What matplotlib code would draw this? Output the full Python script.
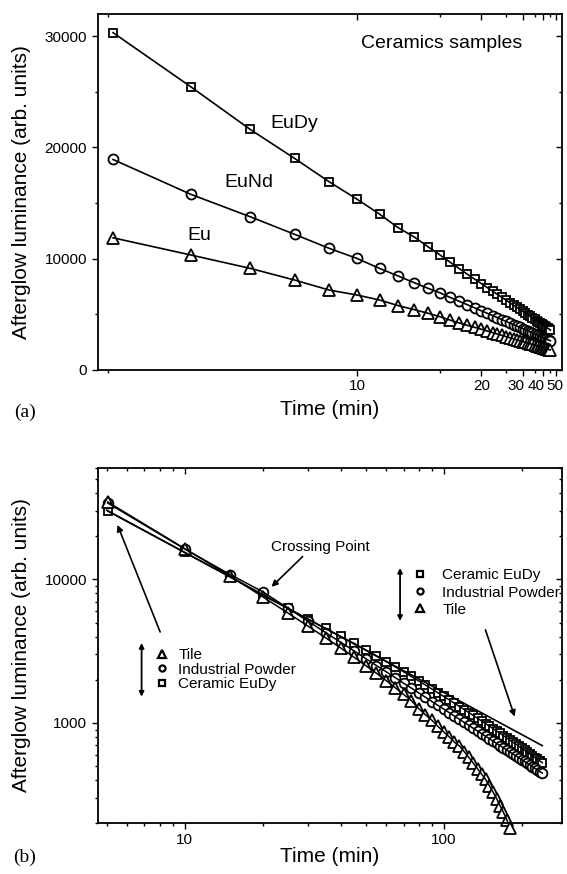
import numpy as np
import matplotlib
matplotlib.use('Agg')
import matplotlib.pyplot as plt
import matplotlib.transforms as mtransforms
from matplotlib.ticker import FixedLocator, NullFormatter, FuncFormatter
from matplotlib.lines import Line2D

plt.rcParams['font.family'] = ['Liberation Sans', 'DejaVu Sans']

# ---------------- Panel (a) data: ceramics samples ----------------
t_a = [5.05, 6, 7, 8, 9, 10, 11, 12, 13, 14, 15, 16, 17, 18, 19, 20, 21, 22, 23, 24,
       25, 26, 27, 28, 29, 30, 31, 32, 33, 34, 35, 36, 37, 38, 39, 40, 41, 42, 43, 44, 45]
eudy = [30320, 25440, 21620, 19010, 16910, 15360, 14010, 12780, 11950, 11080, 10350,
        9680, 9110, 8600, 8160, 7770, 7410, 7090, 6790, 6520, 6270, 6040, 5820, 5620,
        5440, 5270, 5100, 4950, 4810, 4680, 4550, 4430, 4320, 4210, 4110, 4010, 3920,
        3830, 3750, 3670, 3590]
eund = [18920, 15780, 13770, 12190, 10930, 10030, 9130, 8440, 7840, 7340, 6940,
        6520, 6170, 5860, 5580, 5320, 5100, 4890, 4700, 4520, 4360, 4210, 4070, 3950,
        3830, 3720, 3610, 3510, 3420, 3330, 3250, 3180, 3100, 3030, 2970, 2900, 2840,
        2790, 2730, 2680, 2630]
eu = [11880, 10330, 9130, 8080, 7180, 6740, 6290, 5780, 5420, 5100, 4790,
      4480, 4220, 4010, 3830, 3660, 3500, 3360, 3230, 3110, 3000, 2900, 2800, 2710,
      2630, 2550, 2480, 2410, 2350, 2290, 2230, 2180, 2130, 2080, 2030, 1990, 1950,
      1910, 1870, 1830, 1800]
a_xticks = [10, 20, 30, 40, 50]
a_xminor = [5, 15, 25, 35, 45]
a_yticks = [0, 10000, 20000, 30000]
a_yminor = [5000, 15000, 25000]

# ---------------- Panel (b) data ----------------
t_tile = [5.05, 10, 15, 20, 25, 30, 35, 40, 45, 50, 55, 60, 65, 70, 75, 80, 85, 90,
          95, 100, 105, 110, 115, 120, 125, 130, 135, 140, 145, 150, 155, 160, 165,
          170, 175, 180]
tile = [34600, 16400, 10540, 7570, 5840, 4710, 3920, 3330, 2870, 2510, 2220, 1970,
        1760, 1580, 1430, 1260, 1140, 1045, 946, 866, 800, 735, 690, 630, 575, 525,
        480, 440, 405, 365, 330, 297, 265, 238, 212, 186]
t_long = [5.05, 10, 15, 20, 25, 30, 35, 40, 45, 50, 55, 60, 65, 70, 75, 80, 85, 90,
          95, 100, 105, 110, 115, 120, 125, 130, 135, 140, 145, 150, 155, 160, 165,
          170, 175, 180, 185, 190, 195, 200, 205, 210, 215, 220, 225, 230, 235, 240]
powder = [34000, 16300, 10800, 8210, 6320, 5100, 4260, 3650, 3180, 2810, 2510, 2270,
          2070, 1890, 1750, 1620, 1510, 1410, 1325, 1250, 1180, 1116, 1060, 1008, 961,
          918, 879, 842, 808, 777, 747, 720, 695, 671, 648, 627, 608, 589, 571, 555,
          539, 524, 510, 496, 483, 471, 459, 448]
ceramic = [29900, 15400, 10400, 7770, 6270, 5270, 4550, 4010, 3590, 3230, 2930, 2675,
           2458, 2271, 2107, 1963, 1836, 1723, 1621, 1530, 1447, 1371, 1302, 1239, 1181,
           1128, 1078, 1032, 990, 950, 913, 878, 846, 815, 787, 760, 734, 711, 688, 666,
           646, 626, 608, 590, 574, 558, 543, 528]
fit_t = [5, 240]
fit_v = [30350, 695]


def fwd(t):
    t = np.asarray(t, dtype=float)
    with np.errstate(divide='ignore', invalid='ignore'):
        return -1.0 / t


def inv(u):
    u = np.asarray(u, dtype=float)
    with np.errstate(divide='ignore', invalid='ignore'):
        return -1.0 / u


fig = plt.figure(figsize=(5.67, 8.74), dpi=100)
axA = fig.add_axes([0.1728, 0.5767, 0.8184, 0.4073])
axB = fig.add_axes([0.1728, 0.0580, 0.8184, 0.4069])

MEW = 1.3
TL = 4.3
TLm = 2.3

# ---------------- Panel (a) ----------------
axA.set_xscale('function', functions=(fwd, inv))
for y, m, ms in [(eudy, 's', 6.3), (eund, 'o', 7.2), (eu, '^', 8.0)]:
    axA.plot(t_a, y, ls='none', marker=m, ms=ms, mfc='white', mec='k', mew=MEW,
             zorder=2, clip_on=False)
    axA.plot(t_a, y, '-', color='k', lw=1.2, zorder=3)
axA.set_xlim(4.9, 57)
axA.set_ylim(0, 32000)
axA.xaxis.set_major_locator(FixedLocator(a_xticks))
axA.xaxis.set_minor_locator(FixedLocator(a_xminor))
axA.xaxis.set_major_formatter(FuncFormatter(lambda v, p: f'{v:g}'))
axA.xaxis.set_minor_formatter(NullFormatter())
axA.yaxis.set_major_locator(FixedLocator(a_yticks))
axA.yaxis.set_minor_locator(FixedLocator(a_yminor))
axA.yaxis.set_major_formatter(FuncFormatter(lambda v, p: f'{v:g}'))

axA.text(0.741, 0.918, 'Ceramics samples', transform=axA.transAxes, ha='center',
         va='center', fontsize=14)
axA.text(0.423, 0.693, 'EuDy', transform=axA.transAxes, ha='center', va='center', fontsize=14)
axA.text(0.326, 0.526, 'EuNd', transform=axA.transAxes, ha='center', va='center', fontsize=14)
axA.text(0.218, 0.379, 'Eu', transform=axA.transAxes, ha='center', va='center', fontsize=14)

# ---------------- Panel (b) ----------------
axB.set_xscale('log')
axB.set_yscale('log')
for tt, y, m, ms in [(t_long, ceramic, 's', 6.3), (t_long, powder, 'o', 7.0),
                     (t_tile, tile, '^', 8.4)]:
    axB.plot(tt, y, ls='none', marker=m, ms=ms, mfc='white', mec='k', mew=MEW,
             zorder=2, clip_on=False)
    axB.plot(tt, y, '-', color='k', lw=1.1, zorder=3)
axB.plot(fit_t, fit_v, '-', color='k', lw=1.2, zorder=3)
axB.set_xlim(4.63, 286)
axB.set_ylim(200, 60000)
fmt = FuncFormatter(lambda v, p: f'{v:g}')
axB.xaxis.set_major_formatter(fmt)
axB.yaxis.set_major_formatter(fmt)
axB.xaxis.set_minor_formatter(NullFormatter())
axB.yaxis.set_minor_formatter(NullFormatter())

axB.text(0.480, 0.776, 'Crossing Point', transform=axB.transAxes, ha='center',
         va='center', fontsize=11)
ap = dict(arrowstyle='-|>', color='k', lw=1.2, mutation_scale=9, shrinkA=0, shrinkB=0)
axB.annotate('', xy=(0.374, 0.665), xytext=(0.441, 0.750), xycoords='axes fraction',
             textcoords='axes fraction', arrowprops=ap)
axB.annotate('', xy=(0.042, 0.839), xytext=(0.134, 0.538), xycoords='axes fraction',
             textcoords='axes fraction', arrowprops=ap)
axB.annotate('', xy=(0.898, 0.300), xytext=(0.835, 0.544), xycoords='axes fraction',
             textcoords='axes fraction', arrowprops=ap)
dap = dict(arrowstyle='<|-|>', color='k', lw=1.3, mutation_scale=7, shrinkA=0, shrinkB=0)
axB.annotate('', xy=(0.651, 0.718), xytext=(0.651, 0.569), xycoords='axes fraction',
             textcoords='axes fraction', arrowprops=dap)
axB.annotate('', xy=(0.094, 0.507), xytext=(0.094, 0.356), xycoords='axes fraction',
             textcoords='axes fraction', arrowprops=dap)

h_sq = Line2D([], [], ls='none', marker='s', ms=4.2, mfc='white', mec='k', mew=1.6)
h_ci = Line2D([], [], ls='none', marker='o', ms=4.4, mfc='white', mec='k', mew=1.6)
h_tr = Line2D([], [], ls='none', marker='^', ms=5.5, mfc='white', mec='k', mew=1.6)
leg1 = axB.legend([h_sq, h_ci, h_tr], ['Ceramic EuDy', 'Industrial Powder', 'Tile'],
                  loc='center left', bbox_to_anchor=(0.6765, 0.649), frameon=False,
                  fontsize=11, handlelength=1.0, handletextpad=1.0, labelspacing=0.2,
                  borderpad=0, borderaxespad=0)
axB.add_artist(leg1)
axB.legend([h_tr, h_ci, h_sq], ['Tile', 'Industrial Powder', 'Ceramic EuDy'],
           loc='center left', bbox_to_anchor=(0.124, 0.432), frameon=False,
           fontsize=11, handlelength=0.8, handletextpad=0.7, labelspacing=0.05,
           borderpad=0, borderaxespad=0)

# ---------------- common styling ----------------
for ax in (axA, axB):
    for s in ax.spines.values():
        s.set_linewidth(1.3)
    ax.tick_params(which='both', direction='out', top=False, right=False,
                   labelsize=11, width=1.0, pad=2.5)
    ax.tick_params(which='major', length=TL)
    ax.tick_params(which='minor', length=TLm)
    ax.tick_params(axis='y', which='both', pad=3.6)
    ax.set_ylabel('Afterglow luminance (arb. units)', fontsize=15)
    ax.set_xlabel('Time (min)', fontsize=15)

axA.yaxis.set_label_coords(-0.145, 0.5)
axB.yaxis.set_label_coords(-0.145, 0.5)
axA.xaxis.set_label_coords(0.5, -0.085)
axB.xaxis.set_label_coords(0.5, -0.068)

# inward ticks on top / right via twin axes
tA = axA.twiny()
tA.set_xscale('function', functions=(fwd, inv))
tA.set_xlim(axA.get_xlim())
tA.xaxis.set_major_locator(FixedLocator(a_xticks))
tA.xaxis.set_minor_locator(FixedLocator(a_xminor))
rA = axA.twinx()
rA.set_ylim(axA.get_ylim())
rA.yaxis.set_major_locator(FixedLocator(a_yticks))
rA.yaxis.set_minor_locator(FixedLocator(a_yminor))

tB = axB.twiny()
tB.set_xscale('log')
tB.set_xlim(axB.get_xlim())
rB = axB.twinx()
rB.set_yscale('log')
rB.set_ylim(axB.get_ylim())

for ax in (tA, rA, tB, rB):
    for s in ax.spines.values():
        s.set_visible(False)
    ax.tick_params(which='both', direction='in', width=1.0, labeltop=False,
                   labelright=False, labelbottom=False, labelleft=False)
    ax.tick_params(which='major', length=TL)
    ax.tick_params(which='minor', length=TLm)

fig.text(0.044, 1 - 412 / 874, '(a)', family='Liberation Serif', fontsize=14,
         ha='center', va='center')
fig.text(0.044, 1 - 857 / 874, '(b)', family='Liberation Serif', fontsize=14,
         ha='center', va='center')

# crowded labels 30/40/50 sit packed side by side as in the original
fig.canvas.draw()
for tick, dx in zip(axA.xaxis.get_major_ticks(), [0, 0, -6.6, -7.8, -0.7]):
    if dx:
        tick.label1.set_transform(tick.label1.get_transform() +
                                  mtransforms.ScaledTranslation(dx / 100, 0,
                                                                fig.dpi_scale_trans))

fig.savefig('out.png', dpi=100)
